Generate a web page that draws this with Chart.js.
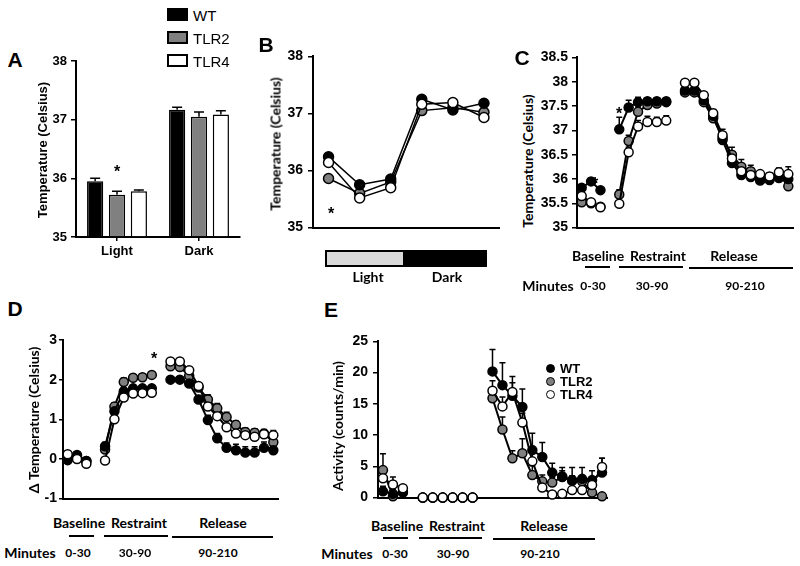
<!DOCTYPE html>
<html>
<head>
<meta charset="utf-8">
<script src="https://cdn.jsdelivr.net/npm/chart.js@4.4.0/dist/chart.umd.min.js"></script>
<style>
body { margin: 0; background: #fff; width: 800px; height: 566px; position: relative; overflow: hidden; }
canvas { position: absolute; }
.t { position: absolute; transform: translate(-50%, -50%); white-space: nowrap; line-height: 1; color: #000; }
.rot { transform: translate(-50%, -50%) rotate(-90deg); }
.letter { font: bold 21px "Liberation Sans", Arial, sans-serif; }
.cal { font: bold 14px Lato, sans-serif; }
.small { font: bold 12px Lato, sans-serif; }
.ar { font: bold 13px "Liberation Sans", Arial, sans-serif; }
.star { font: bold 16px "Liberation Sans", Arial, sans-serif; }
.leg { font: 15px "Liberation Sans", Arial, sans-serif; }
.box { position: absolute; box-sizing: border-box; border: 2px solid #000; }
.rule { position: absolute; height: 2px; background: #000; }
.dot { position: absolute; width: 9px; height: 9px; border-radius: 50%; box-sizing: border-box; border: 1.5px solid #000; }
</style>
</head>
<body>
<canvas id="cA"></canvas>
<canvas id="cB"></canvas>
<canvas id="cC"></canvas>
<canvas id="cD"></canvas>
<canvas id="cE"></canvas>
<script>
// ---- data ----
const groups = ['WT', 'TLR2', 'TLR4'];
const fills = ['#000000', '#808080', '#ffffff'];

// A: mean body temperature per phase
const phases = ['Light', 'Dark'];
const aWT = [35.95, 37.17];
const aTLR2 = [35.72, 37.05];
const aTLR4 = [35.78, 37.09];
const aWTErr = [0.05, 0.04];
const aTLR2Err = [0.06, 0.08];
const aTLR4Err = [0.02, 0.06];

// B: temperature over the light/dark cycle
const cycleBins = ['Light 1', 'Light 2', 'Light 3', 'Dark 1', 'Dark 2', 'Dark 3'];
const bWT = [36.24, 35.75, 35.85, 37.25, 37.06, 37.18];
const bTLR2 = [35.86, 35.60, 35.80, 37.05, 37.10, 37.02];
const bTLR4 = [36.14, 35.52, 35.70, 37.16, 37.19, 36.93];

// C, D, E: 10 min bins (baseline 0-30, restraint 30-90, release 90-210), blank slot between phases
const minuteBins = ['0', '10', '20', '', '30', '40', '50', '60', '70', '80', '',
  '90', '100', '110', '120', '130', '140', '150', '160', '170', '180', '190', '200'];

const cWT = [35.82, 35.95, 35.77, null, 37.02, 37.47, 37.58, 37.60, 37.60, 37.60, null,
  37.82, 37.82, 37.62, 37.30, 36.80, 36.33, 36.08, 36.04, 35.97, 35.98, 36.02, 36.00];
const cTLR2 = [35.52, 35.50, 35.43, null, 35.68, 36.78, 37.38, 37.52, 37.55, 37.58, null,
  37.78, 37.78, 37.58, 37.25, 36.85, 36.50, 36.25, 36.16, 36.05, 36.03, 36.10, 35.85];
const cTLR4 = [35.65, 35.52, 35.42, null, 35.49, 36.55, 37.08, 37.17, 37.17, 37.20, null,
  37.98, 37.98, 37.72, 37.35, 36.90, 36.42, 36.16, 36.08, 36.10, 36.05, 36.14, 36.10];
const cWTErr = [0.05, 0.05, 0.05, null, 0.25, 0.15, 0.10, 0.06, 0.06, 0.06, null,
  0.05, 0.05, 0.05, 0.06, 0.08, 0.08, 0.06, 0.05, 0.05, 0.05, 0.05, 0.05];
const cTLR2Err = [0.05, 0.05, 0.05, null, 0.10, 0.12, 0.10, 0.08, 0.06, 0.06, null,
  0.05, 0.05, 0.08, 0.10, 0.12, 0.15, 0.15, 0.12, 0.10, 0.10, 0.12, 0.10];
const cTLR4Err = [0.05, 0.05, 0.05, null, 0.05, 0.10, 0.12, 0.12, 0.10, 0.10, null,
  0.05, 0.05, 0.05, 0.08, 0.12, 0.10, 0.08, 0.06, 0.06, 0.06, 0.08, 0.15];

const dWT = [-0.03, 0.10, -0.05, null, 0.32, 1.20, 1.70, 1.78, 1.78, 1.78, null,
  2.00, 2.00, 1.90, 1.50, 0.98, 0.52, 0.28, 0.22, 0.16, 0.16, 0.28, 0.22];
const dTLR2 = [0.03, 0.05, -0.05, null, 0.24, 1.32, 1.94, 2.05, 2.06, 2.12, null,
  2.34, 2.32, 2.10, 1.80, 1.50, 1.28, 1.06, 0.86, 0.68, 0.66, 0.64, 0.42];
const dTLR4 = [0.12, 0.00, -0.12, null, -0.04, 1.00, 1.55, 1.65, 1.66, 1.67, null,
  2.46, 2.46, 2.24, 1.84, 1.32, 1.08, 0.80, 0.64, 0.60, 0.56, 0.62, 0.60];
const dWTErr = [0.05, 0.05, 0.05, null, 0.10, 0.10, 0.08, 0.08, 0.08, 0.08, null,
  0.05, 0.05, 0.08, 0.10, 0.12, 0.12, 0.12, 0.15, 0.15, 0.15, 0.15, 0.12];
const dTLR2Err = [0.05, 0.05, 0.05, null, 0.10, 0.10, 0.10, 0.08, 0.08, 0.08, null,
  0.05, 0.05, 0.08, 0.10, 0.12, 0.12, 0.12, 0.10, 0.10, 0.10, 0.10, 0.10];
const dTLR4Err = [0.05, 0.05, 0.05, null, 0.05, 0.05, 0.05, 0.05, 0.05, 0.05, null,
  0.05, 0.05, 0.05, 0.08, 0.10, 0.10, 0.10, 0.08, 0.08, 0.10, 0.10, 0.12];

const eWT = [1.0, 0.6, 0.8, null, 0, 0, 0, 0, 0, 0, null,
  20.2, 18.0, 16.3, 14.5, 7.6, 6.5, 4.0, 3.4, 2.8, 3.0, 2.8, 4.0];
const eTLR2 = [4.4, 0.2, 0.9, null, 0, 0, 0, 0, 0, 0, null,
  15.9, 10.9, 6.3, 7.1, 3.6, 2.6, 2.4, 3.3, 2.7, 2.6, 0.8, 0.2];
const eTLR4 = [3.1, 2.1, 1.5, null, 0, 0, 0, 0, 0, 0, null,
  17.1, 14.6, 16.9, 12.0, 5.8, 1.6, 0.5, 0.6, 1.2, 1.2, 2.0, 4.9];
const eWTErr = [0.8, 0.5, 0.5, null, 0, 0, 0, 0, 0, 0, null,
  3.5, 3.6, 3.1, 2.9, 2.7, 2.3, 1.5, 1.4, 2.0, 1.8, 1.5, 2.3];
const eTLR2Err = [2.6, 1.0, 0.8, null, 0, 0, 0, 0, 0, 0, null,
  1.1, 2.0, 1.2, 2.3, 1.5, 1.0, 0.8, 1.0, 0.8, 0.8, 0.5, 0.2];
const eTLR4Err = [1.2, 1.2, 0.5, null, 0, 0, 0, 0, 0, 0, null,
  1.6, 1.5, 1.5, 1.5, 1.3, 0.6, 0.4, 0.5, 0.5, 0.5, 0.6, 1.4];

// ---- drawing ----
Chart.defaults.font.family = '"Liberation Sans", Arial, sans-serif';
Chart.defaults.font.weight = 'bold';
Chart.defaults.font.size = 14;
Chart.defaults.color = '#000';
Chart.defaults.animation = false;

// upper-only error bars with a cap, drawn from each dataset's err array
const errorBars = {
  id: 'errorBars',
  beforeDatasetsDraw(chart, args, opts) {
    const ctx = chart.ctx;
    const ys = chart.scales.y;
    chart.data.datasets.forEach((ds, i) => {
      if (!ds.err) return;
      const meta = chart.getDatasetMeta(i);
      ctx.save();
      ctx.strokeStyle = '#000';
      ctx.lineWidth = opts.width || 1.5;
      meta.data.forEach((el, j) => {
        const v = ds.data[j], e = ds.err[j];
        if (v == null || !e) return;
        const y0 = ys.getPixelForValue(v), y1 = ys.getPixelForValue(v + e);
        ctx.beginPath();
        ctx.moveTo(el.x, y0);
        ctx.lineTo(el.x, y1);
        ctx.moveTo(el.x - opts.cap, y1);
        ctx.lineTo(el.x + opts.cap, y1);
        ctx.stroke();
      });
      ctx.restore();
    });
  }
};

const AXIS_W = 40, PAD_T = 12, PAD_R = 6;

// put a canvas so that its chart area lands on the given box
function place(id, area, xH) {
  const cv = document.getElementById(id);
  cv.style.left = (area.l - AXIS_W) + 'px';
  cv.style.top = (area.t - PAD_T) + 'px';
  cv.width = area.r - area.l + AXIS_W + PAD_R;
  cv.height = area.b - area.t + PAD_T + xH;
  return cv;
}

function yAxis(min, max, step, pad) {
  return {
    min, max,
    ticks: { stepSize: step, padding: pad, callback: v => String(v) },
    grid: { display: true, drawOnChartArea: false, drawTicks: true, tickLength: 5, color: '#000', lineWidth: 1.5 },
    border: { display: true, color: '#000', width: 2 },
    afterFit: s => { s.width = AXIS_W; }
  };
}

function lineChart(id, area, labels, sets, yopt, r, lw) {
  const cv = place(id, area, 4);
  return new Chart(cv, {
    type: 'line',
    data: {
      labels,
      datasets: sets.map((s, k) => ({
        label: groups[k],
        data: s.data,
        err: s.err,
        borderColor: '#000',
        borderWidth: lw,
        backgroundColor: fills[k],
        pointBackgroundColor: fills[k],
        pointBorderColor: '#000',
        pointBorderWidth: 1.5,
        pointRadius: r,
        order: [1, 2, 0][k],
        clip: false,
        spanGaps: false,
        tension: 0
      }))
    },
    options: {
      responsive: false,
      layout: { padding: { left: 0, top: PAD_T, right: PAD_R, bottom: 0 } },
      plugins: { legend: { display: false }, tooltip: { enabled: false }, errorBars: { cap: 3, width: 1.5 } },
      scales: {
        x: {
          offset: true,
          ticks: { display: false },
          grid: { display: false },
          border: { display: true, color: '#000', width: 2 },
          afterFit: s => { s.height = 4; }
        },
        y: yopt
      }
    },
    plugins: [errorBars]
  });
}

// A
const areaA = { l: 76, t: 61, r: 240, b: 237 };
const yA = yAxis(35, 38, 1, 4);
yA.ticks.font = { size: 13 };
new Chart(place('cA', areaA, 30), {
  type: 'bar',
  data: {
    labels: phases,
    datasets: [
      { label: 'WT', data: aWT, err: aWTErr },
      { label: 'TLR2', data: aTLR2, err: aTLR2Err },
      { label: 'TLR4', data: aTLR4, err: aTLR4Err }
    ].map((d, k) => Object.assign(d, {
      backgroundColor: fills[k], borderColor: '#000', borderWidth: 1.5,
      categoryPercentage: 0.8, barPercentage: 0.74, base: 35
    }))
  },
  options: {
    responsive: false,
    layout: { padding: { left: 0, top: PAD_T, right: PAD_R, bottom: 0 } },
    plugins: { legend: { display: false }, tooltip: { enabled: false }, errorBars: { cap: 5, width: 1.5 } },
    scales: {
      x: {
        ticks: { padding: 3, font: { size: 13 } },
        grid: { display: true, drawOnChartArea: false, offset: false, tickLength: 4, color: '#000', lineWidth: 1.5 },
        border: { display: true, color: '#000', width: 2 },
        afterFit: s => { s.height = 30; }
      },
      y: yA
    }
  },
  plugins: [errorBars]
});

// B
lineChart('cB', { l: 313, t: 55, r: 500, b: 237 }, cycleBins,
  [{ data: bWT }, { data: bTLR2 }, { data: bTLR4 }], yAxis(35, 38, 1, 5), 5, 1.5);

// C
lineChart('cC', { l: 577, t: 57, r: 793, b: 236 }, minuteBins,
  [{ data: cWT, err: cWTErr }, { data: cTLR2, err: cTLR2Err }, { data: cTLR4, err: cTLR4Err }],
  yAxis(35, 38.5, 0.5, 4), 4.5, 2);

// D
const yD = yAxis(-1, 3, 1, 2);
yD.grid.tickLength = 4;
lineChart('cD', { l: 63, t: 340, r: 278, b: 505 }, minuteBins,
  [{ data: dWT, err: dWTErr }, { data: dTLR2, err: dTLR2Err }, { data: dTLR4, err: dTLR4Err }],
  yD, 4.5, 2);

// E
lineChart('cE', { l: 378, t: 340, r: 607, b: 507 }, minuteBins,
  [{ data: eWT, err: eWTErr }, { data: eTLR2, err: eTLR2Err }, { data: eTLR4, err: eTLR4Err }],
  yAxis(0, 25, 5, 5), 4.5, 2);

// ---- text and decorations ----
function txt(s, x, y, cls) {
  const d = document.createElement('div');
  d.className = 't ' + cls;
  d.textContent = s;
  d.style.left = x + 'px';
  d.style.top = y + 'px';
  document.body.appendChild(d);
  return d;
}
function el(cls, x, y, w, h, bg) {
  const d = document.createElement('div');
  d.className = cls;
  d.style.left = x + 'px';
  d.style.top = y + 'px';
  if (w != null) d.style.width = w + 'px';
  if (h != null) d.style.height = h + 'px';
  if (bg) d.style.background = bg;
  document.body.appendChild(d);
  return d;
}

txt('A', 15, 60, 'letter');
txt('B', 266, 45, 'letter');
txt('C', 522, 58, 'letter');
txt('D', 15, 309, 'letter');
txt('E', 331, 310, 'letter');

// legend A
groups.forEach((g, k) => {
  el('box', 167, 8 + k * 23, 21, 13, fills[k]);
  const t = txt(g, 193, 15 + k * 23, 'leg');
  t.style.transform = 'translate(0,-50%)';
});

// axis titles
txt('Temperature (Celsius)', 42, 150, 'ar rot');
txt('Temperature (Celsius)', 275, 144, 'cal rot');
txt('Temperature (Celsius)', 527, 161, 'cal rot');
txt('\u0394 Temperature (Celsius)', 33, 420, 'cal rot');
txt('Activity (counts/min)', 337, 426, 'cal rot');

// significance marks
txt('*', 117, 172, 'star');
txt('*', 331, 214, 'star');
txt('*', 595, 184, 'star');
txt('*', 619, 114, 'star');
txt('*', 154, 359, 'star');

// B light/dark bar
el('box', 325, 250, 80, 17, '#d9d9d9');
el('box', 403, 250, 84, 17, '#000');
txt('Light', 368, 276, 'cal');
txt('Dark', 447, 276, 'cal');

// phase labels under C, D, E
function phaseRow(y, bx, rx, lx, lines, my, mx, mins) {
  txt('Baseline', bx, y, 'cal');
  txt('Restraint', rx, y, 'cal');
  txt('Release', lx, y, 'cal');
  lines.forEach(([a, b, yy]) => el('rule', a, yy, b - a, 2));
  txt('Minutes', mx, my, 'cal');
  mins.forEach(([s, x]) => txt(s, x, my, 'small'));
}
phaseRow(255, 598, 658, 734, [[585, 610, 266], [619, 683, 266], [689, 793, 267]],
  285, 548, [['0-30', 593], ['30-90', 652], ['90-210', 745]]);
phaseRow(522, 79, 139, 223, [[69, 94, 535], [104, 168, 535], [172, 273, 536]],
  552, 30, [['0-30', 78], ['30-90', 135], ['90-210', 218]]);
phaseRow(525, 397, 457, 544, [[383, 408, 537], [419, 482, 537], [493, 595, 538]],
  553, 347, [['0-30', 395], ['30-90', 453], ['90-210', 540]]);

// legend E
groups.forEach((g, k) => {
  el('dot', 546, 364 + k * 13, null, null, fills[k]);
  const t = txt(g, 560, 368 + k * 13, 'ar');
  t.style.transform = 'translate(0,-50%)';
});
</script>
</body>
</html>
